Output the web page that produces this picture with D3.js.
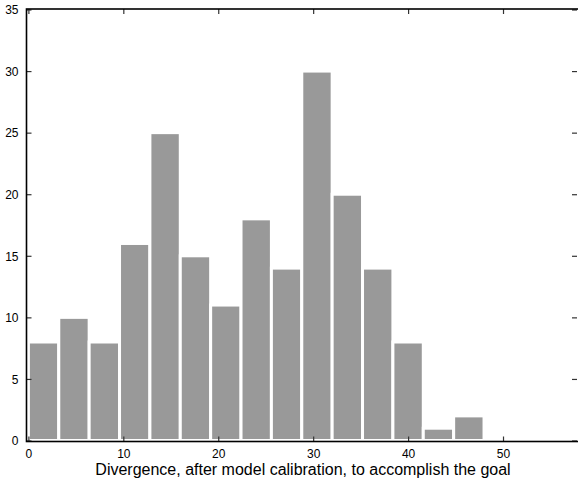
<!DOCTYPE html>
<html>
<head>
<meta charset="utf-8">
<script src="https://d3js.org/d3.v7.min.js"></script>
<style>
  body { margin: 0; background: #fff; }
  svg { display: block; }
  text { font-family: "Liberation Sans", Arial, sans-serif; fill: #000; }
</style>
</head>
<body>
<svg id="chart" width="578" height="482"></svg>
<script>
// histogram bins (left edges) and counts
var binEdges = [0, 3.2, 6.4, 9.6, 12.8, 16, 19.2, 22.4, 25.6, 28.8, 32, 35.2, 38.4, 41.6, 44.8, 48];
var counts = [8, 10, 8, 16, 25, 15, 11, 18, 14, 30, 20, 14, 8, 1, 2];
var xTicks = [0, 10, 20, 30, 40, 50];
var yTicks = [0, 5, 10, 15, 20, 25, 30, 35];
var xLabel = "Divergence, after model calibration, to accomplish the goal";

var draw_histogram = function () {
    var svg = d3.select("svg#chart");

    // axes box (right edge sits on the page border)
    var left = 26.5, right = 578, top = 9, bottom = 441.5;

    var x = d3.scaleLinear().domain([-0.2, 57.9]).range([left, right]);
    var y = d3.scaleLinear().domain([-0.08, 35]).range([bottom, 9.5]);

    var bins = counts.map(function (c, i) {
        return { x0: binEdges[i], x1: binEdges[i + 1], n: c };
    });

    svg.append("g")
        .selectAll("rect")
        .data(bins)
        .enter().append("rect")
        .attr("x", d => x(d.x0))
        .attr("width", d => x(d.x1) - x(d.x0))
        .attr("y", d => y(d.n))
        .attr("height", d => y(0) - y(d.n))
        .attr("fill", "#999999")
        .attr("stroke", "#ffffff")
        .attr("stroke-width", 3);

    // bottom / left axes with inward ticks
    var xAxis = d3.axisBottom(x).tickValues(xTicks).tickSize(-5).tickPadding(8)
        .tickSizeOuter(0);
    var gx = svg.append("g")
        .attr("transform", "translate(0," + bottom + ")")
        .call(xAxis);

    var yAxis = d3.axisLeft(y).tickValues(yTicks).tickSize(-5).tickPadding(8)
        .tickSizeOuter(0);
    var gy = svg.append("g")
        .attr("transform", "translate(" + left + ",0)")
        .call(yAxis);

    // mirror ticks on top and right, MATLAB box style
    var gxt = svg.append("g")
        .attr("transform", "translate(0," + top + ")")
        .call(d3.axisTop(x).tickValues(xTicks).tickSize(-5).tickSizeOuter(0).tickFormat(""));
    var gyr = svg.append("g")
        .attr("transform", "translate(" + (right - 1) + ",0)")
        .call(d3.axisRight(y).tickValues(yTicks).tickSize(-5).tickSizeOuter(0).tickFormat(""));

    [gx, gy, gxt, gyr].forEach(function (g) {
        g.select(".domain").remove();
        g.selectAll(".tick line").attr("stroke", "#333").attr("stroke-width", 1.2);
        g.selectAll(".tick text")
            .attr("font-size", 12)
            .attr("font-family", "Liberation Sans, Arial, sans-serif")
            .attr("fill", "#000");
    });
    gy.selectAll(".tick text").attr("dy", "0.36em");

    // box
    svg.append("rect")
        .attr("x", left)
        .attr("y", top)
        .attr("width", right - left + 2)
        .attr("height", bottom - top)
        .attr("fill", "none")
        .attr("stroke", "#000")
        .attr("stroke-width", 1.6);

    svg.append("text")
        .attr("x", 303)
        .attr("y", 475)
        .attr("text-anchor", "middle")
        .attr("font-size", 16)
        .text(xLabel);
};

window.onload = draw_histogram;
</script>
</body>
</html>
